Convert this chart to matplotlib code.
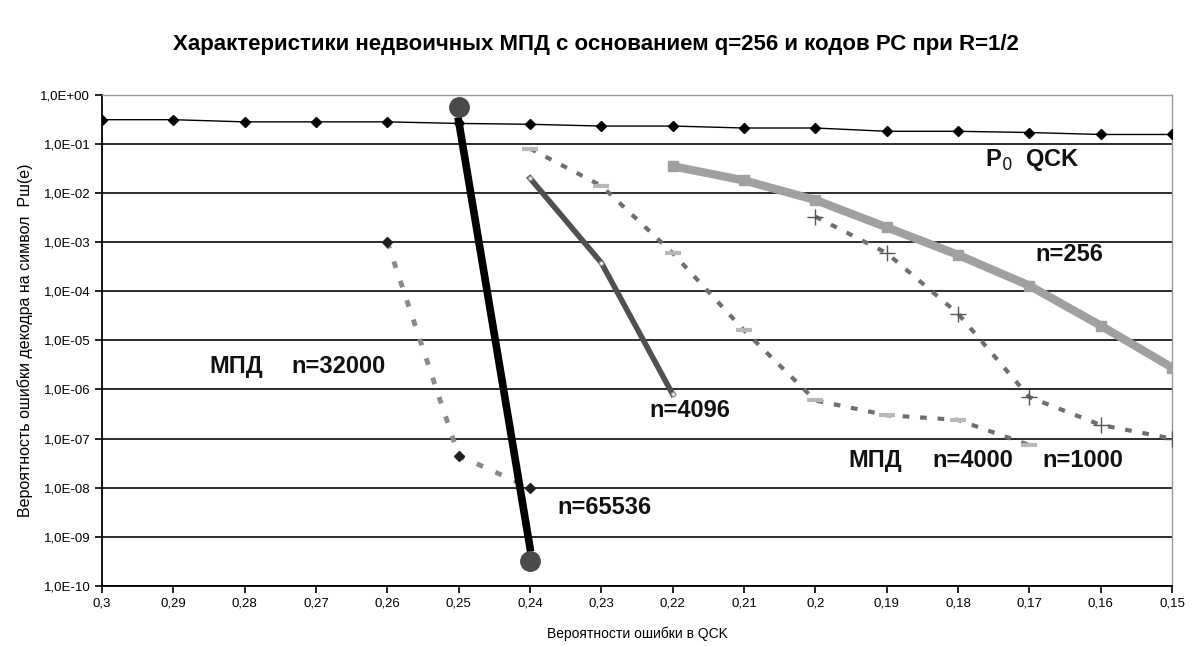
# Характеристики недвоичных МПД и кодов РС, q=256, R=1/2

import matplotlib
matplotlib.use("Agg")
import matplotlib.pyplot as plt

plt.rcParams['font.family'] = ['Liberation Sans', 'DejaVu Sans']

# вероятность ошибки в QCK (ось x)
x_ticks = [0.3, 0.29, 0.28, 0.27, 0.26, 0.25, 0.24, 0.23, 0.22, 0.21, 0.2, 0.19, 0.18, 0.17, 0.16, 0.15]
x_labels = ["0,3", "0,29", "0,28", "0,27", "0,26", "0,25", "0,24", "0,23", "0,22", "0,21",
            "0,2", "0,19", "0,18", "0,17", "0,16", "0,15"]
y_ticks = [1e0, 1e-1, 1e-2, 1e-3, 1e-4, 1e-5, 1e-6, 1e-7, 1e-8, 1e-9, 1e-10]
y_labels = ["1,0E+00", "1,0E-01", "1,0E-02", "1,0E-03", "1,0E-04", "1,0E-05",
            "1,0E-06", "1,0E-07", "1,0E-08", "1,0E-09", "1,0E-10"]

# P0 QCK
p0_x = x_ticks
p0_y = [0.31, 0.31, 0.28, 0.28, 0.28, 0.26, 0.25, 0.23, 0.23, 0.21, 0.21, 0.18, 0.18, 0.17, 0.155, 0.155]

# n=65536
n65536_x = [0.25, 0.24]
n65536_y = [0.29, 6e-10]
n65536_pts_y = [0.57, 3.3e-10]

# МПД n=32000
n32000_x = [0.26, 0.25, 0.24]
n32000_y = [1e-3, 4.5e-8, 1e-8]

# n=4096
n4096_x = [0.24, 0.23, 0.22]
n4096_y = [2e-2, 3.8e-4, 8e-7]

# n=256
n256_x = [0.22, 0.21, 0.2, 0.19, 0.18, 0.17, 0.16, 0.15]
n256_y = [3.5e-2, 1.8e-2, 7.2e-3, 2.0e-3, 5.5e-4, 1.3e-4, 2.0e-5, 2.8e-6]

# МПД n=4000
n4000_x = [0.24, 0.23, 0.22, 0.21, 0.2, 0.19, 0.18, 0.17]
n4000_y = [8e-2, 1.4e-2, 6e-4, 1.6e-5, 6e-7, 3e-7, 2.4e-7, 7.4e-8]

# n=1000
n1000_x = [0.2, 0.19, 0.18, 0.17, 0.16, 0.15]
n1000_y = [3.3e-3, 6e-4, 3.5e-5, 7e-7, 1.9e-7, 1e-7]

fig = plt.figure(figsize=(11.92, 6.46), dpi=100)
ax = fig.add_axes([0.0856, 0.0929, 0.8976, 0.7605])
ax.set_yscale('log')
ax.set_xlim(0.3, 0.15)
ax.set_ylim(1e-10, 1e0)

for y in y_ticks:
    ax.axhline(y, color='#1a1a1a', lw=1.3, zorder=1)

ax.plot(p0_x, p0_y, color='black', lw=1, marker='D', ms=5, zorder=5)
ax.plot(n1000_x, n1000_y, color='#6e6e6e', lw=3, linestyle=(0, (1.6, 2.6)), zorder=3)
ax.plot(n1000_x, n1000_y, linestyle='none', marker='+', ms=11, mew=1, color='#555555', zorder=4)
ax.plot(n4000_x, n4000_y, color='#6e6e6e', lw=3, linestyle=(0, (1.6, 2.6)), zorder=3)
ax.plot(n4000_x, n4000_y, linestyle='none', marker='_', ms=12, mew=3, color='#b8b8b8', zorder=4)
ax.plot(n256_x, n256_y, color='#a0a0a0', lw=6, marker='s', ms=7, zorder=4)
ax.plot(n4096_x, n4096_y, color='#505050', lw=4, marker='o', ms=3, mfc='white', mec='#909090', zorder=4)
ax.plot(n32000_x, n32000_y, color='#8a8a8a', lw=3.5, linestyle=(0, (1.4, 2.8)), zorder=3)
ax.plot(n32000_x, n32000_y, linestyle='none', marker='D', ms=5, color='#202020', zorder=4)
ax.plot(n65536_x, n65536_y, color='black', lw=5.5, zorder=6)
ax.plot(n65536_x, n65536_pts_y, linestyle='none', marker='o', ms=14, color='#4a4a4a', zorder=7)

ax.set_xticks(x_ticks)
ax.set_xticklabels(x_labels, fontsize=9.5)
ax.set_yticks(y_ticks)
ax.set_yticklabels(y_labels, fontsize=9.5)
ax.minorticks_off()
ax.tick_params(direction='out', length=5, width=1.2, color='black')

for s in ['left', 'bottom']:
    ax.spines[s].set_color('black')
    ax.spines[s].set_linewidth(1.3)
for s in ['top', 'right']:
    ax.spines[s].set_color('#999999')
    ax.spines[s].set_linewidth(1)

ax.set_xlabel("Вероятности ошибки в QCK", fontsize=10, labelpad=12)
ax.set_ylabel("Вероятность ошибки декодра на символ  Pш(е)", fontsize=11.5, labelpad=5)
fig.suptitle("Характеристики недвоичных МПД с основанием q=256 и кодов РС при R=1/2",
             fontsize=16, fontweight='bold', y=0.948)

lab = dict(fontsize=17, fontweight='bold', color='#111111', ha='left', va='center')
ax.text(0.1762, 4.7e-2, "P$_0$  QCK", **lab)
ax.text(0.1692, 5.5e-4, "n=256", **lab)
ax.text(0.2849, 3e-6, "МПД", **lab)
ax.text(0.2734, 3e-6, "n=32000", **lab)
ax.text(0.2232, 3.8e-7, "n=4096", **lab)
ax.text(0.1954, 3.6e-8, "МПД", **lab)
ax.text(0.1836, 3.6e-8, "n=4000", **lab)
ax.text(0.1682, 3.6e-8, "n=1000", **lab)
ax.text(0.2361, 4e-9, "n=65536", **lab)

fig.savefig("out.png", dpi=100)
